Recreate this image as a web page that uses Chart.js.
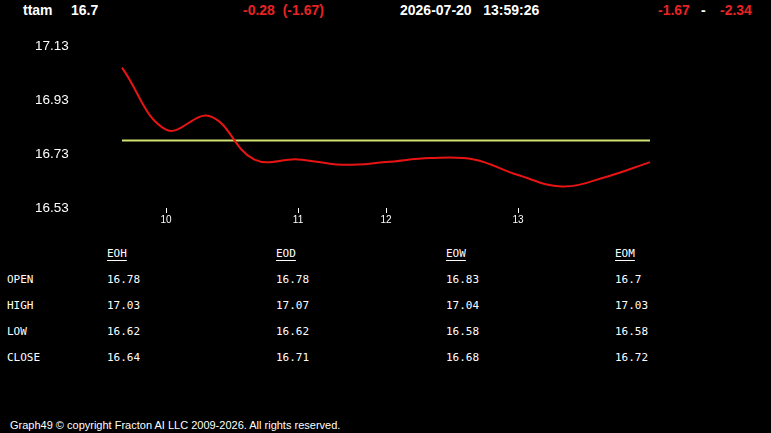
<!DOCTYPE html>
<html>
<head>
<meta charset="utf-8">
<script src="https://cdn.jsdelivr.net/npm/chart.js@4"></script>
<style>
  body { margin: 0; background: #000; width: 771px; height: 433px; overflow: hidden; position: relative; font-family: "Liberation Sans", Arial, sans-serif; }
  .hd { position: absolute; top: 2px; font-weight: bold; font-size: 14px; color: #fff; white-space: pre; }
  .red { color: #e82323; }
  #wrap { position: absolute; left: 0; top: 31px; width: 660px; height: 207px; }
  .tb { position: absolute; font-family: "DejaVu Sans Mono", monospace; font-size: 11px; color: #fff; }
  .th { text-decoration: underline; text-underline-offset: 3px; }
  #foot { position: absolute; left: 10px; top: 419px; font-size: 11px; color: #fff; }
</style>
</head>
<body>
<div class="hd" style="left:23px">ttam</div>
<div class="hd" style="left:71px">16.7</div>
<div class="hd red" style="left:243px">-0.28  (-1.67)</div>
<div class="hd" style="left:400px">2026-07-20   13:59:26</div>
<div class="hd red" style="left:658px">-1.67</div>
<div class="hd" style="left:701px">-</div>
<div class="hd red" style="left:720px">-2.34</div>
<div id="wrap"><canvas id="chart" width="660" height="207"></canvas></div>
<div id="table"></div>
<div id="foot">Graph49 © copyright Fracton AI LLC 2009-2026. All rights reserved.</div>
<script>
const hourLabels = ["", "10", "", "", "11", "", "12", "", "", "13", "", "", ""];
const priceValues = [17.05, 16.82, 16.87, 16.71, 16.71, 16.69, 16.70, 16.715, 16.71, 16.652, 16.61, 16.645, 16.70];
const openLevel = 16.78;
const yTicks = [16.53, 16.73, 16.93, 17.13];

const colHeads = ["EOH", "EOD", "EOW", "EOM"];
const rowHeads = ["OPEN", "HIGH", "LOW", "CLOSE"];
const eohValues = ["16.78", "17.03", "16.62", "16.64"];
const eodValues = ["16.78", "17.07", "16.62", "16.71"];
const eowValues = ["16.83", "17.04", "16.58", "16.68"];
const eomValues = ["16.7", "17.03", "16.58", "16.72"];

// summary table
const table = document.getElementById("table");
const colX = [107, 276, 446, 615];
const rowY = [273, 299, 325, 351];
const cols = [eohValues, eodValues, eowValues, eomValues];
function cell(text, x, y, cls) {
  const d = document.createElement("div");
  d.className = "tb" + (cls ? " " + cls : "");
  d.style.left = x + "px";
  d.style.top = y + "px";
  d.textContent = text;
  table.appendChild(d);
}
colHeads.forEach((h, i) => cell(h, colX[i], 247, "th"));
rowHeads.forEach((r, j) => {
  cell(r, 7, rowY[j]);
  cols.forEach((c, i) => cell(c[j], colX[i], rowY[j]));
});

const ctx = document.querySelector("#chart").getContext("2d");

new Chart(ctx, {
  type: "line",
  data: {
    labels: hourLabels,
    datasets: [
      {
        data: priceValues,
        borderColor: "#e81414",
        borderWidth: 2,
        tension: 0.4,
        pointRadius: 0,
      },
      {
        data: hourLabels.map(() => openLevel),
        borderColor: "#d2e272",
        borderWidth: 2,
        pointRadius: 0,
      },
    ],
  },
  options: {
    responsive: false,
    animation: false,
    layout: { padding: { top: 15, right: 10, left: 35, bottom: 0 } },
    plugins: { legend: { display: false }, tooltip: { enabled: false } },
    scales: {
      x: {
        grid: {
          drawOnChartArea: false,
          drawTicks: true,
          tickLength: 5,
          tickColor: (c) => (c.tick && c.tick.label ? "#fff" : "rgba(0,0,0,0)"),
        },
        border: { display: false },
        ticks: { color: "#fff", font: { size: 10 }, padding: 1, autoSkip: false, maxRotation: 0 },
        afterFit: (s) => { s.height = 30; },
      },
      y: {
        min: 16.53,
        max: 17.13,
        afterBuildTicks: (s) => { s.ticks = yTicks.map((v) => ({ value: v })); },
        grid: { display: false, drawTicks: false },
        border: { display: false },
        ticks: { color: "#fff", font: { size: 13.5 }, padding: 0, crossAlign: "far", callback: (v) => v.toFixed(2) },
        afterFit: (s) => { s.width = 87; },
      },
    },
  },
});
</script>
</body>
</html>
